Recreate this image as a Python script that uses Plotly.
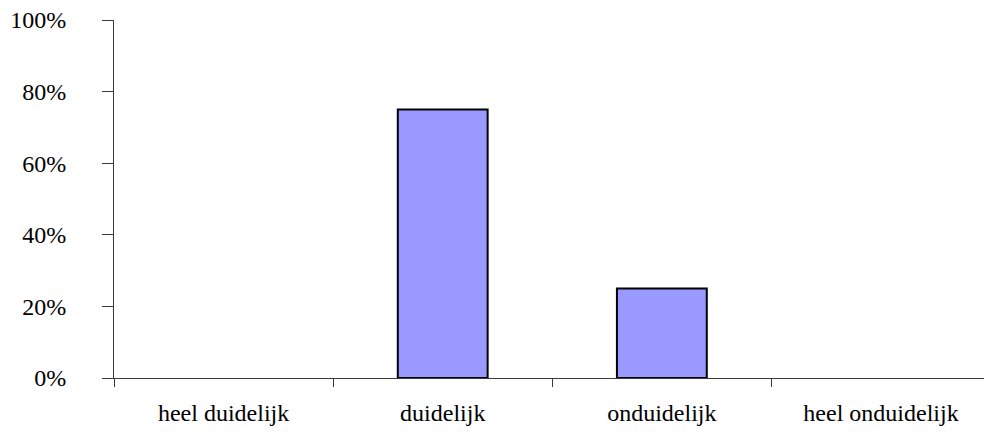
import plotly.graph_objects as go

# Survey answers and their share of respondents
categories = ["heel duidelijk", "duidelijk", "onduidelijk", "heel onduidelijk"]
shares = [0.0, 0.75, 0.25, 0.0]
y_ticks = [0, 0.2, 0.4, 0.6, 0.8, 1.0]
y_tick_labels = ["0%", "20%", "40%", "60%", "80%", "100%"]

FONT = "Liberation Serif"
AXIS_COLOR = "#3a3a3a"

fig = go.Figure(
    go.Bar(
        x=categories,
        y=shares,
        width=0.41,
        marker={
            "color": "#9999ff",
            # no outline on empty bars so they leave no stray line on the axis
            "line": {"color": "#000000", "width": [0 if v == 0 else 2 for v in shares]},
        },
    )
)

fig.update_layout(
    width=984,
    height=432,
    margin={"l": 114, "r": 0, "t": 20, "b": 54},
    paper_bgcolor="white",
    plot_bgcolor="white",
    showlegend=False,
    font={"family": FONT, "size": 24, "color": "#000000"},
    xaxis={
        "range": [-0.5, 3.47],
        "automargin": False,
        "showline": True,
        "linecolor": AXIS_COLOR,
        "linewidth": 1,
        "ticks": "outside",
        "tickson": "boundaries",
        "ticklen": 8,
        "tickcolor": AXIS_COLOR,
        "ticklabelstandoff": 13,
        "showgrid": False,
        "zeroline": False,
    },
    yaxis={
        "range": [0, 1],
        "automargin": False,
        "tickvals": y_ticks,
        "ticktext": y_tick_labels,
        "ticklabeloverflow": "allow",
        "showline": True,
        "linecolor": AXIS_COLOR,
        "linewidth": 1,
        "ticks": "outside",
        "ticklen": 11,
        "tickcolor": AXIS_COLOR,
        "ticklabelstandoff": 31,
        "showgrid": False,
        "zeroline": False,
    },
)

# drop the default 8px page margin so the figure fills the window exactly
fig.write_html(
    "out.html",
    config={"displayModeBar": False},
    post_script="document.body.style.margin = '0';",
)
